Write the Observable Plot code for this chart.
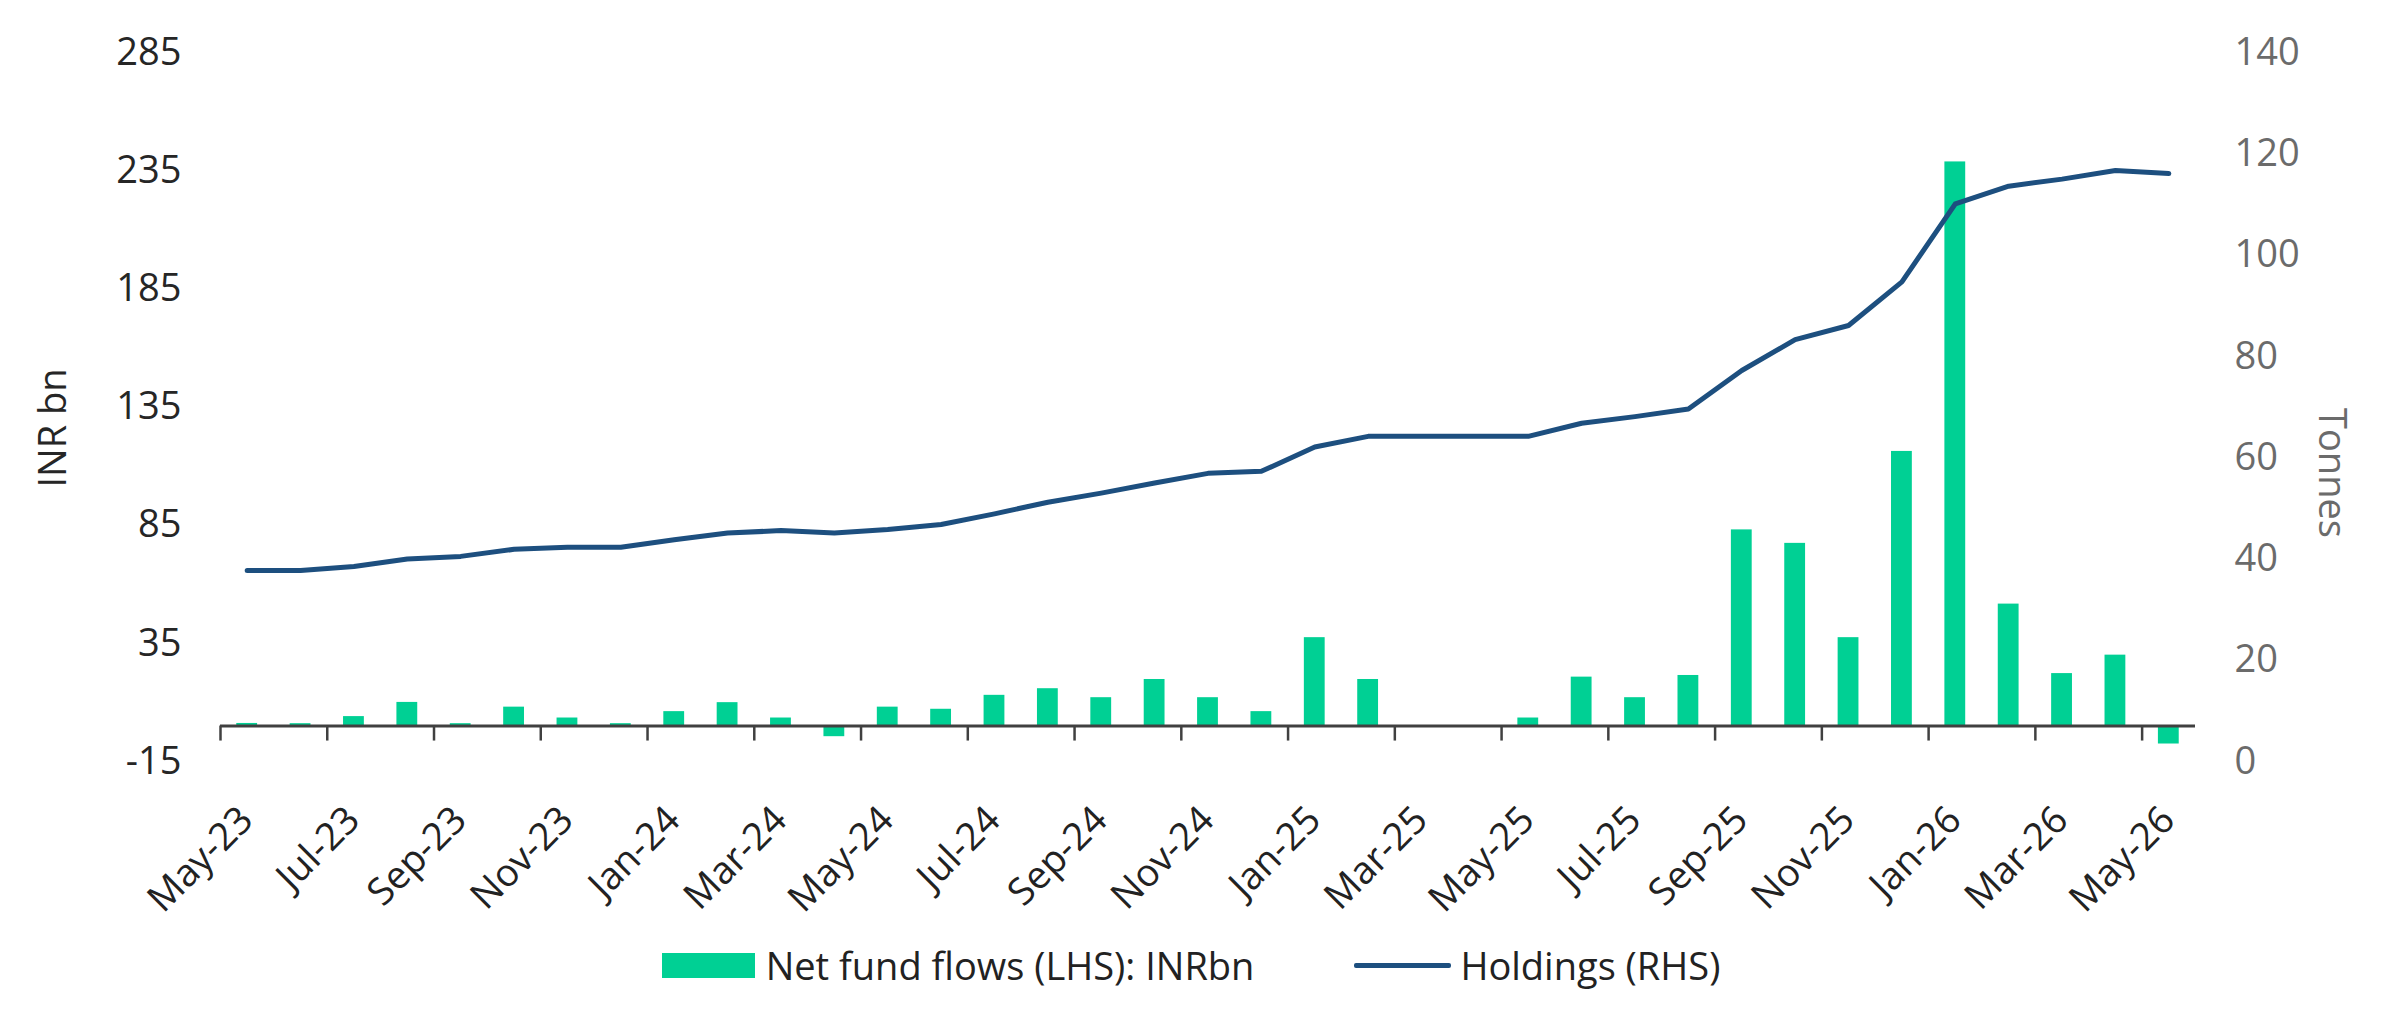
<!DOCTYPE html>
<html>
<head>
<meta charset="utf-8">
<script src="https://cdn.jsdelivr.net/npm/d3@7"></script>
<script src="https://cdn.jsdelivr.net/npm/@observablehq/plot@0.6"></script>
<style>
  html, body { margin: 0; padding: 0; background: #ffffff; }
  body { width: 2382px; height: 1010px; overflow: hidden; font-family: "Open Sans", sans-serif; }
  #chart svg { display: block; }
  .legend { display: flex; justify-content: center; align-items: center; height: 90px; font-size: 38px; color: #222; }
  .legend .item { display: flex; align-items: center; }
  .legend .bar-swatch { width: 93px; height: 25px; background: #00d094; margin-right: 11px; }
  .legend .line-swatch { width: 97px; height: 5px; background: #1d4f7f; margin-right: 9px; margin-left: 100px; border-radius: 2px; }
</style>
</head>
<body>
<div id="chart"></div>
<div class="legend">
  <div class="item"><div class="bar-swatch"></div><span>Net fund flows (LHS): INRbn</span></div>
  <div class="item"><div class="line-swatch"></div><span>Holdings (RHS)</span></div>
</div>
<script>
// Monthly categories
const months = [
  "May-23","Jun-23","Jul-23","Aug-23","Sep-23","Oct-23","Nov-23","Dec-23",
  "Jan-24","Feb-24","Mar-24","Apr-24","May-24","Jun-24","Jul-24","Aug-24","Sep-24","Oct-24","Nov-24","Dec-24",
  "Jan-25","Feb-25","Mar-25","Apr-25","May-25","Jun-25","Jul-25","Aug-25","Sep-25","Oct-25","Nov-25","Dec-25",
  "Jan-26","Feb-26","Mar-26","Apr-26","May-26"
];

// Net fund flows, INR bn (left axis)
const netFlows = [
  1.1, 1.0, 4.0, 10.0, 1.0, 8.0, 3.4, 1.0,
  6.1, 9.9, 3.4, -4.5, 8.0, 7.1, 13.0, 15.8, 12.0, 19.7, 12.0, 6.1,
  37.4, 19.7, 0, 0, 3.4, 20.7, 12.0, 21.4, 83.0, 77.3, 37.4, 116.2,
  238.7, 51.6, 22.2, 30.0, -7.6
];

// Holdings, tonnes (right axis)
const holdings = [
  37.7, 37.7, 38.5, 40.0, 40.5, 41.9, 42.3, 42.3,
  43.8, 45.1, 45.6, 45.1, 45.8, 46.8, 48.9, 51.2, 53.0, 55.0, 56.9, 57.3,
  62.1, 64.2, 64.2, 64.2, 64.2, 66.8, 68.1, 69.6, 77.2, 83.3, 86.1, 94.7,
  110.1, 113.6, 115.0, 116.7, 116.1
];

// Axis tick values
const leftTicks = [-15, 35, 85, 135, 185, 235, 285];
const rightTicks = [0, 20, 40, 60, 80, 100, 120, 140];

// Right axis (tonnes 0–140) shares the left axis range (-15–285)
const leftMin = -15, leftMax = 285, rightMax = 140;
const toLeft = t => leftMin + t * (leftMax - leftMin) / rightMax;
const toRight = v => (v - leftMin) * rightMax / (leftMax - leftMin);

const rows = months.map((m, i) => ({i, month: m, flow: netFlows[i], holding: toLeft(holdings[i])}));
const labelIdx = months.map((m, i) => i).filter(i => i % 2 === 0);

const green = "#00d094";
const navy = "#1d4f7f";
const axisGrey = "#404040";

const chart = Plot.plot({
  width: 2382,
  height: 920,
  marginLeft: 220,
  marginRight: 187,
  marginTop: 52,
  marginBottom: 159,
  style: {fontFamily: "Open Sans, sans-serif", fontSize: "38px", background: "#ffffff", overflow: "visible"},
  x: {type: "linear", domain: [0, months.length], axis: null},
  y: {domain: [leftMin, leftMax], axis: null},
  marks: [
    // fund-flow bars
    Plot.rectY(rows, {x1: d => d.i + 0.305, x2: d => d.i + 0.695, y1: 0, y2: "flow", fill: green}),
    // category axis through zero
    Plot.ruleY([0], {stroke: axisGrey, strokeWidth: 3}),
    Plot.ruleX(labelIdx, {x: d => d, y1: 0, y2: 0, insetBottom: -15, stroke: axisGrey, strokeWidth: 2.5}),
    // month labels
    Plot.text(labelIdx, {
      x: d => d + 0.5, y: 0, text: d => months[d],
      rotate: -45, textAnchor: "end", lineAnchor: "bottom",
      dx: 8, dy: 96, fill: "#222", fontSize: 38
    }),
    // holdings line
    Plot.line(rows, {x: d => d.i + 0.5, y: "holding", stroke: navy, strokeWidth: 5, strokeLinejoin: "round", strokeLinecap: "round"}),
    // left axis
    Plot.axisY({anchor: "left", ticks: leftTicks, tickFormat: d => String(d), tickSize: 0, tickPadding: 39, label: null, color: "#262626", fontSize: 38}),
    // right axis
    Plot.axisY({anchor: "right", ticks: rightTicks.map(toLeft), tickFormat: v => String(Math.round(toRight(v))), tickSize: 0, tickPadding: 39, label: null, color: "#6b6b6b", fontSize: 38}),
    // axis titles
    Plot.text(["INR bn"], {frameAnchor: "left", textAnchor: "middle", dx: -167, dy: 21, rotate: -90, fill: "#262626", fontSize: 38}),
    Plot.text(["Tonnes"], {frameAnchor: "right", textAnchor: "middle", dx: 136, dy: 66, rotate: 90, fill: "#6b6b6b", fontSize: 38})
  ]
});

document.getElementById("chart").append(chart);
</script>
</body>
</html>
